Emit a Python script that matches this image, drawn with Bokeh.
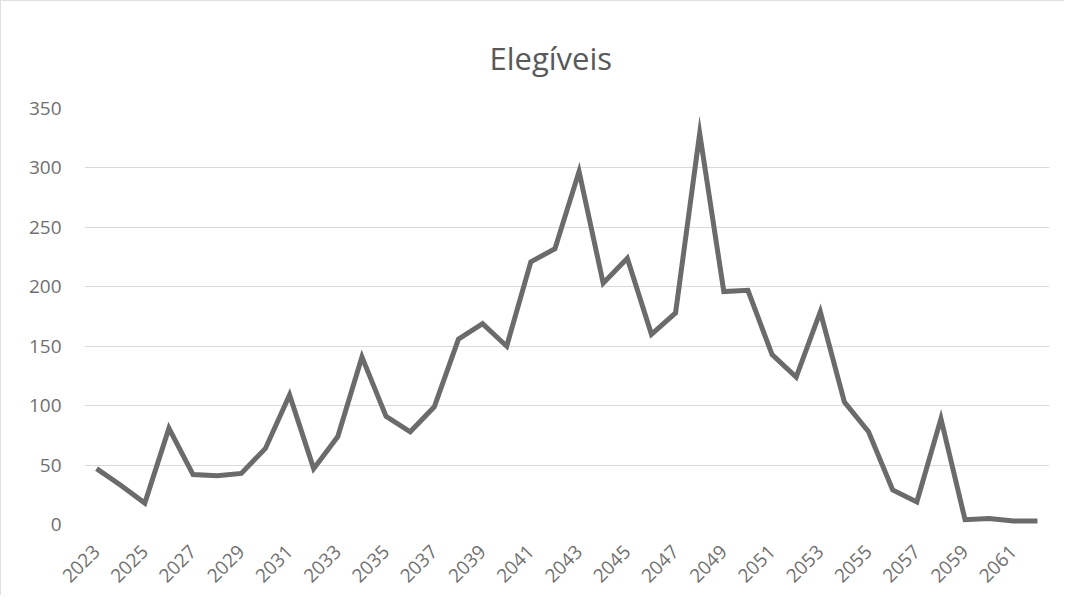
import math
from bokeh.plotting import figure
from bokeh.models import Range1d, FixedTicker, ColumnDataSource
from bokeh.embed import file_html
from bokeh.resources import INLINE

years = list(range(2023, 2063))
elegiveis = [47, 33, 18, 81, 42, 41, 43, 64, 109, 47, 74, 141, 91, 78, 99, 156, 169, 150, 221, 232,
             297, 203, 224, 160, 178, 329, 196, 197, 143, 124, 179, 103, 78, 29, 19, 89, 4, 5, 3, 3]
y_ticks = [0, 50, 100, 150, 200, 250, 300, 350]
x_ticks = list(range(2023, 2062, 2))
title_text = "Elegíveis"

FONT = "Open Sans"
TXT = "#6f6f6f"

p = figure(width=1063, height=594, output_backend="svg", toolbar_location=None,
           x_range=Range1d(years[0] - 0.5, years[-1] + 0.5), y_range=Range1d(0, 350),
           min_border_left=83, min_border_right=15, min_border_top=107, min_border_bottom=71,
           background_fill_color="white", border_fill_color="white")
p.frame_width = 965
p.frame_height = 416
p.outline_line_color = None

p.title.text = title_text
p.title.text_font = FONT
p.title.text_font_size = "31px"
p.title.text_font_style = "normal"
p.title.text_color = "#595959"
p.title.align = "left"
p.title.offset = 405
p.title.standoff = 60

src = ColumnDataSource(dict(x=years, y=elegiveis))
p.line("x", "y", source=src, line_color="#6b6b6b", line_width=5, line_join="miter")

p.yaxis.ticker = FixedTicker(ticks=y_ticks)
p.xaxis.ticker = FixedTicker(ticks=x_ticks)
p.xaxis.major_label_orientation = math.pi / 4
for ax in (p.xaxis, p.yaxis):
    ax.axis_line_color = None
    ax.major_tick_line_color = None
    ax.minor_tick_line_color = None
    ax.major_label_text_font = FONT
    ax.major_label_text_font_size = "19px"
    ax.major_label_text_color = TXT
p.yaxis.major_label_standoff = 17
p.xaxis.major_label_standoff = 18

p.xgrid.grid_line_color = None
p.ygrid.ticker = FixedTicker(ticks=y_ticks)
p.ygrid.grid_line_color = "#d9d9d9"
p.ygrid.grid_line_width = 1

p.styles = {"border-left": "1px solid #e0e0e0", "border-top": "1px solid #e0e0e0"}

open("out.html", "w").write(file_html(p, INLINE))
